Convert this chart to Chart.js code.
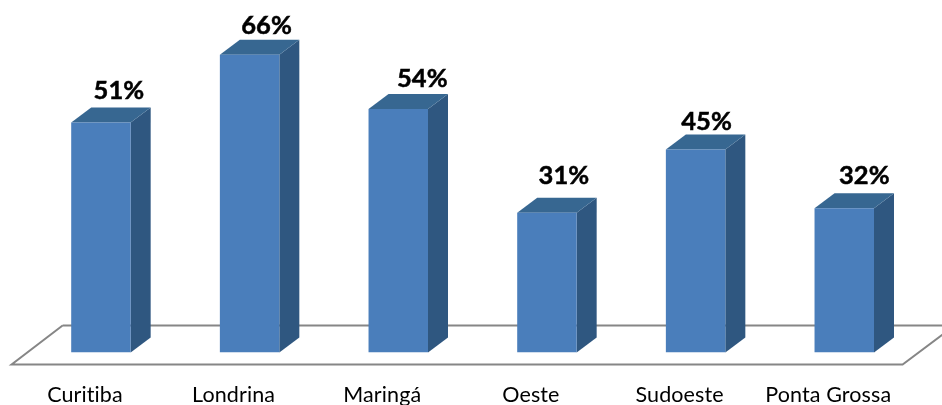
<!DOCTYPE html>
<html>
<head>
<meta charset="utf-8">
<script src="https://cdn.jsdelivr.net/npm/chart.js@4"></script>
<style>
  html, body { margin: 0; padding: 0; background: #ffffff; }
  #wrap { width: 942px; height: 405px; }
</style>
</head>
<body>
<div id="wrap"><canvas id="chart"></canvas></div>
<script>
const categories = ["Curitiba", "Londrina", "Maringá", "Oeste", "Sudoeste", "Ponta Grossa"];
const percentValues = [51, 66, 54, 31, 45, 32];

// profundidade do efeito 3D
const depthX = 20;
const depthY = 15;

// ajuste manual dos rotulos em relacao a barra [dx, dy]
const labelNudges = [[18, -32], [17, -29], [24, -30], [17, -37], [11, -28], [20, -32]];

function poly(ctx, pts, fill) {
  ctx.beginPath();
  pts.forEach((p, i) => i ? ctx.lineTo(p[0], p[1]) : ctx.moveTo(p[0], p[1]));
  ctx.closePath();
  ctx.fillStyle = fill;
  ctx.fill();
}

const floorPlugin = {
  id: "floor",
  beforeDraw(chart) {
    // evita a ligadura "ti" do Lato
    chart.ctx.letterSpacing = "0.1px";
  },
  beforeDatasetsDraw(chart) {
    const ctx = chart.ctx;
    const base = chart.scales.y.getPixelForValue(0);
    const a = chart.chartArea;
    ctx.save();
    ctx.strokeStyle = "#868686";
    ctx.lineWidth = 2;
    ctx.beginPath();
    ctx.moveTo(a.left + 36, base - 27);
    ctx.lineTo(a.left - 15, base + 12);
    ctx.lineTo(a.right - 16, base + 12);
    ctx.lineTo(a.right + 24, base - 18);
    ctx.moveTo(a.left + 36, base - 27);
    ctx.lineTo(a.right + 24, base - 27);
    ctx.stroke();
    ctx.restore();
  }
};

const boxPlugin = {
  id: "box",
  beforeDatasetDraw(chart) {
    const ctx = chart.ctx;
    chart.getDatasetMeta(0).data.forEach(bar => {
      const p = bar.getProps(["x", "y", "base", "width"], true);
      const l = p.x - p.width / 2, r = p.x + p.width / 2;
      // lateral
      poly(ctx, [[r, p.y], [r + depthX, p.y - depthY], [r + depthX, p.base - depthY], [r, p.base]], "#2f5780");
      // topo
      poly(ctx, [[l, p.y], [l + depthX, p.y - depthY], [r + depthX, p.y - depthY], [r, p.y]], "#376791");
    });
  },
  afterDatasetsDraw(chart) {
    const ctx = chart.ctx;
    ctx.save();
    ctx.font = "bold 25.5px Lato";
    ctx.fillStyle = "#000000";
    ctx.strokeStyle = "#000000";
    ctx.lineWidth = 0.5;
    ctx.textAlign = "center";
    ctx.textBaseline = "middle";
    chart.getDatasetMeta(0).data.forEach((bar, i) => {
      const n = labelNudges[i];
      ctx.fillText(percentValues[i] + "%", bar.x + n[0], bar.y + n[1]);
      ctx.strokeText(percentValues[i] + "%", bar.x + n[0], bar.y + n[1]);
    });
    ctx.restore();
  }
};

new Chart(document.getElementById("chart"), {
  type: "bar",
  data: {
    labels: categories,
    datasets: [{
      data: percentValues,
      backgroundColor: "#4a7ebb",
      borderWidth: 0,
      barPercentage: 1,
      categoryPercentage: 0.4
    }]
  },
  options: {
    responsive: true,
    maintainAspectRatio: false,
    animation: false,
    layout: { padding: { top: 36.7, left: 26.6, right: 23.4, bottom: 0 } },
    plugins: { legend: { display: false }, tooltip: { enabled: false } },
    scales: {
      y: { display: false, min: 0, max: 70 },
      x: {
        afterFit(scale) { scale.height = 52.5; },
        grid: { display: false },
        border: { display: false },
        ticks: {
          color: "#000000",
          padding: 22,
          labelOffset: -16,
          maxRotation: 0,
          autoSkip: false,
          font: { family: "Lato", size: 21.5 }
        }
      }
    }
  },
  plugins: [floorPlugin, boxPlugin]
});
</script>
</body>
</html>
